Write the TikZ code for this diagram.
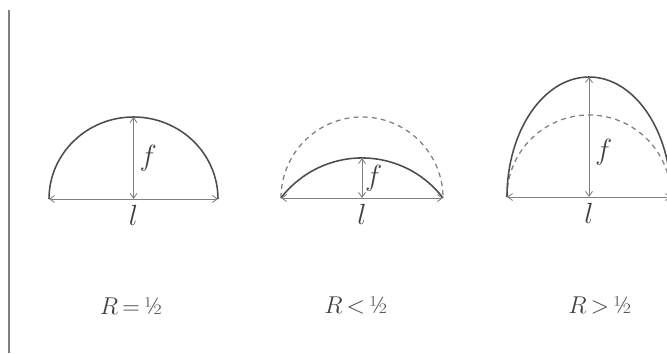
\documentclass[tikz,border=0pt]{standalone}
\usepackage{tikz}
\usetikzlibrary{positioning, arrows.meta}
\usepackage{xcolor}
\tikzset{
  arch/.style={black!70, line width=1.1pt},
  ghost/.style={black!50, line width=0.9pt, dash pattern=on 3.5pt off 3pt},
  span/.style={black!50, line width=0.6pt, {Straight Barb[length=3.5pt,width=5pt]}-{Straight Barb[length=3.5pt,width=5pt]}},
  sym/.style={black!75, font=\huge, inner sep=2pt},
  caption/.style={black!75, font=\LARGE}
}

\begin{document}
\begin{tikzpicture}
  \useasboundingbox (0,0) rectangle (16.675,8.825);
  \coordinate (top edge) at (0.225,8.575);
  \coordinate (bottom edge) at (0.225,0);
  \draw[black!50, line width=0.8pt] (top edge) -- (bottom edge);

  % R = 1/2 : half circle
  \coordinate (l1) at (1.225,3.85);
  \coordinate (r1) at (5.45,3.85);
  \coordinate (m1) at (3.3375,3.85);
  \coordinate (t1) at (3.3375,5.9);
  \draw[arch] (l1) arc[start angle=180, end angle=0, x radius=2.1125, y radius=2.05];
  \draw[span] (l1) -- (r1);
  \draw[span] (m1) -- (t1) node[sym, midway, right=2pt] (f1) {$f$};
  \node[sym, below=2pt of m1] (span1) {$l$};

  % R < 1/2 : flat arc under the half circle
  \coordinate (l2) at (7.025,3.875);
  \coordinate (r2) at (11.075,3.875);
  \coordinate (m2) at (9.05,3.875);
  \coordinate (t2) at (9.05,4.875);
  \draw[ghost] (l2) arc[start angle=180, end angle=0, radius=2.025];
  \draw[arch] (l2) arc[start angle=142.6, end angle=37.4, radius=2.55];
  \draw[span] (l2) -- (r2);
  \draw[span] (m2) -- (t2) node[sym, midway, right=0pt] (f2) {$f$};
  \node[sym, below=2pt of m2] (span2) {$l$};

  % R > 1/2 : tall arc over the half circle
  \coordinate (l3) at (12.675,3.9);
  \coordinate (r3) at (16.775,3.9);
  \coordinate (m3) at (14.725,3.9);
  \coordinate (t3) at (14.725,6.9);
  \draw[ghost] (l3) arc[start angle=180, end angle=0, radius=2.05];
  \draw[arch] (l3) arc[start angle=180, end angle=0, x radius=2.05, y radius=3.0];
  \draw[span] (l3) -- (r3);
  \draw[span] (m3) -- (t3) node[sym, pos=0.37, right=2pt] (f3) {$f$};
  \node[sym, below=2pt of m3] (span3) {$l$};

  \node[caption] (cap1) at (3.28,1.18) {$R\mkern3mu{=}\mkern3mu\mbox{½}$};
  \node[caption] (cap2) at (8.9,1.18) {$R\mkern3mu{<}\mkern3mu\mbox{½}$};
  \node[caption] (cap3) at (15.0,1.18) {$R\mkern3mu{>}\mkern3mu\mbox{½}$};
\end{tikzpicture}
\end{document}
